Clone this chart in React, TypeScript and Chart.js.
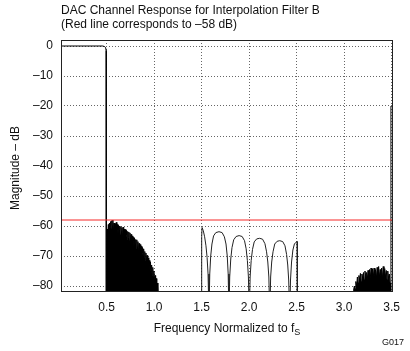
import { useEffect, useRef } from 'react';
import { Chart, registerables } from 'chart.js';

Chart.register(...registerables);

const titleLines = ['DAC Channel Response for Interpolation Filter B', '(Red line corresponds to \u201358 dB)'];
const yAxisTitle = 'Magnitude \u2013 dB';
const xAxisTitle = 'Frequency Normalized to f';
const xAxisTitleSub = 'S';
const figureId = 'G017';

const xTicks = [0.5, 1.0, 1.5, 2.0, 2.5, 3.0, 3.5];
const yTicks = [0, -10, -20, -30, -40, -50, -60, -70, -80];
const xMin = 0.02;
const xMax = 3.515;
const yMin = -82;
const yMax = 2;
const thresholdDb = -58;

const passbandFreq = [0.02, 0.46, 0.48, 0.49, 0.495, 0.497, 0.497];
const passbandMag = [0, 0, -0.2, -0.6, -1.5, -3, -90];

const stopband1Freq = [
  0.500, 0.506, 0.512, 0.518, 0.524, 0.530, 0.536, 0.542, 0.548, 0.554,
  0.560, 0.566, 0.572, 0.578, 0.584, 0.590, 0.596, 0.602, 0.608, 0.614,
  0.620, 0.626, 0.632, 0.638, 0.644, 0.650, 0.656, 0.662, 0.668, 0.674,
  0.680, 0.686, 0.692, 0.698, 0.704, 0.710, 0.716, 0.722, 0.728, 0.734,
  0.740, 0.746, 0.752, 0.758, 0.764, 0.770, 0.776, 0.782, 0.788, 0.794,
  0.800, 0.806, 0.812, 0.818, 0.824, 0.830, 0.836, 0.842, 0.848, 0.854,
  0.860, 0.866, 0.872, 0.878, 0.884, 0.890, 0.896, 0.902, 0.908, 0.914,
  0.920, 0.926, 0.932, 0.938, 0.944, 0.950, 0.956, 0.962, 0.968, 0.974,
  0.980, 0.986, 0.992, 0.998, 1.004, 1.010, 1.016, 1.022, 1.028, 1.034,
  1.040, 1.045,
];
const stopband1Mag = [
  -63.5, -61.0, -62.5, -59.5, -61.5, -59.0, -60.5, -58.5, -61.0, -58.2,
  -60.0, -58.0, -61.5, -59.0, -60.8, -59.2, -62.0, -58.8, -61.2, -59.5,
  -62.5, -59.8, -61.0, -60.0, -63.0, -60.2, -62.0, -60.5, -63.5, -60.4,
  -62.8, -61.0, -64.0, -61.2, -63.0, -61.5, -64.5, -61.8, -63.8, -62.0,
  -65.0, -62.3, -64.5, -62.8, -66.0, -63.3, -65.0, -63.8, -66.8, -64.0,
  -66.0, -64.5, -67.5, -64.6, -67.0, -65.2, -68.5, -65.8, -68.0, -66.2,
  -69.5, -66.8, -69.0, -67.2, -70.0, -67.6, -70.5, -68.5, -71.5, -69.0,
  -72.0, -69.8, -73.0, -70.6, -74.0, -71.5, -74.5, -72.0, -75.5, -73.0,
  -76.5, -73.8, -77.0, -75.0, -78.5, -76.5, -79.5, -77.5, -80.5, -79.0,
  -82.0, -90.0,
];

const lobeFreq = [
  1.500, 1.501, 1.505, 1.518, 1.532, 1.546, 1.558, 1.568, 1.578,
  1.586, 1.596, 1.609, 1.626, 1.650, 1.683, 1.716, 1.740, 1.757, 1.770, 1.780, 1.788,
  1.796, 1.807, 1.820, 1.838, 1.863, 1.895, 1.927, 1.952, 1.969, 1.982, 1.993, 2.002,
  2.011, 2.022, 2.036, 2.054, 2.080, 2.111, 2.142, 2.167, 2.184, 2.197, 2.208, 2.218,
  2.227, 2.238, 2.252, 2.270, 2.295, 2.323, 2.354, 2.378, 2.395, 2.407, 2.417, 2.428,
  2.436, 2.447, 2.461, 2.477, 2.495, 2.507, 2.508,
];
const lobeMag = [
  -90, -63.5, -60.5, -61.6, -63.6, -66.6, -70.5, -76, -90,
  -76, -70, -66, -63.3, -62.2, -61.9, -62.2, -63.6, -66, -70, -76, -90,
  -77, -71, -67.2, -64.6, -63.5, -63.2, -63.5, -64.9, -67.6, -71.5, -77, -90,
  -77, -71.5, -67.8, -65.3, -64.3, -64.1, -64.4, -65.9, -68.6, -72, -77, -90,
  -77, -72, -68.6, -66, -65.1, -64.9, -65.2, -66.6, -69.5, -73, -78, -90,
  -78, -72, -68, -66, -65.4, -65.2, -90,
];

const stopband2Freq = [
  3.090, 3.100, 3.108, 3.116, 3.124, 3.132, 3.140, 3.148, 3.156, 3.164,
  3.172, 3.180, 3.188, 3.196, 3.204, 3.212, 3.220, 3.228, 3.236, 3.244,
  3.252, 3.260, 3.268, 3.276, 3.284, 3.292, 3.300, 3.308, 3.316, 3.324,
  3.332, 3.340, 3.348, 3.356, 3.364, 3.372, 3.380, 3.388, 3.396, 3.404,
  3.412, 3.420, 3.428, 3.436, 3.444, 3.452, 3.460, 3.468, 3.476, 3.484,
  3.490,
];
const stopband2Mag = [
  -90, -81.5, -80.0, -81.0, -78.5, -80.0, -77.0, -79.0, -76.5, -78.0,
  -75.8, -78.5, -76.0, -77.5, -75.5, -78.0, -75.0, -77.0, -75.5, -78.0,
  -74.8, -76.5, -74.5, -77.5, -74.0, -76.0, -74.3, -77.0, -74.0, -76.5,
  -74.5, -77.5, -73.8, -76.0, -73.5, -77.0, -74.5, -76.5, -74.0, -77.5,
  -73.5, -76.0, -74.2, -77.0, -74.8, -78.0, -75.0, -77.5, -76.0, -79.0,
  -82.0,
];

const imageEdgeFreq = [3.493, 3.493];
const imageEdgeMag = [-90, -20];

const toPoints = (xs: number[], ys: number[]) => xs.map((x, i) => ({ x, y: ys[i] }));

const FONT = '"Liberation Sans", Arial, Helvetica, sans-serif';

const decorPlugin = {
  id: 'decor',
  afterDatasetsDraw(chart: any) {
    const { ctx, chartArea } = chart;
    ctx.save();
    ctx.strokeStyle = '#222';
    ctx.lineWidth = 1;
    const l = Math.round(chartArea.left) + 0.5;
    const t = Math.round(chartArea.top) + 0.5;
    const r = Math.round(chartArea.right) - 0.5;
    const b = Math.round(chartArea.bottom) - 0.5;
    ctx.strokeRect(l, t, r - l, b - t);
    ctx.restore();
  },
  afterDraw(chart: any) {
    const { ctx, chartArea } = chart;
    ctx.save();
    ctx.fillStyle = '#111';
    ctx.textBaseline = 'alphabetic';
    ctx.font = `12px ${FONT}`;
    ctx.textAlign = 'left';
    ctx.fillText(titleLines[0], 61, 14);
    ctx.fillText(titleLines[1], 61, 28);

    // y-axis title
    ctx.save();
    ctx.translate(16, (chartArea.top + chartArea.bottom) / 2 + 2);
    ctx.rotate(-Math.PI / 2);
    ctx.textAlign = 'center';
    ctx.textBaseline = 'middle';
    ctx.fillText(yAxisTitle, 0, 0);
    ctx.restore();

    // x-axis title with subscript
    ctx.font = `12px ${FONT}`;
    const mainW = ctx.measureText(xAxisTitle).width;
    ctx.font = `9px ${FONT}`;
    const subW = ctx.measureText(xAxisTitleSub).width;
    const cx = (chartArea.left + chartArea.right) / 2;
    const startX = cx - (mainW + subW) / 2;
    ctx.textAlign = 'left';
    ctx.font = `12px ${FONT}`;
    ctx.fillText(xAxisTitle, startX, 332);
    ctx.font = `9px ${FONT}`;
    ctx.fillText(xAxisTitleSub, startX + mainW, 335);

    ctx.font = `9px ${FONT}`;
    ctx.textAlign = 'right';
    ctx.fillText(figureId, 404, 345);
    ctx.restore();
  },
};

export default function App() {
  const canvasRef = useRef<HTMLCanvasElement | null>(null);

  useEffect(() => {
    if (!canvasRef.current) return;
    const lineBase = {
      pointRadius: 0,
      pointHoverRadius: 0,
      tension: 0,
      borderWidth: 1,
    };
    const chart = new Chart(canvasRef.current, {
      type: 'line',
      data: {
        datasets: [
          {
            ...lineBase,
            label: 'Threshold',
            data: [
              { x: xMin, y: thresholdDb },
              { x: xMax, y: thresholdDb },
            ],
            borderColor: 'rgb(245,40,40)',
            fill: false,
          },
          {
            ...lineBase,
            label: 'Passband',
            data: toPoints(passbandFreq, passbandMag),
            borderColor: '#000',
            fill: false,
          },
          {
            ...lineBase,
            label: 'Stopband 1',
            data: toPoints(stopband1Freq, stopband1Mag),
            borderColor: '#000',
            backgroundColor: '#000',
            fill: 'start',
          },
          {
            ...lineBase,
            label: 'Lobes',
            data: toPoints(lobeFreq, lobeMag),
            borderColor: '#222',
            fill: false,
          },
          {
            ...lineBase,
            label: 'Stopband 2',
            data: toPoints(stopband2Freq, stopband2Mag),
            borderColor: '#000',
            backgroundColor: '#000',
            fill: 'start',
          },
          {
            ...lineBase,
            label: 'Image edge',
            data: toPoints(imageEdgeFreq, imageEdgeMag),
            borderColor: '#111',
            fill: false,
          },
        ],
      },
      options: {
        responsive: false,
        animation: false,
        events: [],
        layout: { padding: { top: 40, right: 17, left: 0, bottom: 0 } },
        plugins: {
          legend: { display: false },
          tooltip: { enabled: false },
          title: { display: false },
        },
        scales: {
          x: {
            type: 'linear',
            min: xMin,
            max: xMax,
            afterBuildTicks: (scale: any) => {
              scale.ticks = xTicks.map((v) => ({ value: v }));
            },
            afterFit: (scale: any) => {
              scale.height = 59;
            },
            ticks: {
              padding: 8,
              color: '#111',
              font: { family: FONT, size: 12 },
              maxRotation: 0,
              autoSkip: false,
              callback: (v: any) => Number(v).toFixed(1),
            },
            grid: {
              color: '#666',
              lineWidth: 1,
              drawTicks: false,
            },
            border: { display: false, dash: [1, 2] },
          },
          y: {
            type: 'linear',
            min: yMin,
            max: yMax,
            afterBuildTicks: (scale: any) => {
              scale.ticks = yTicks.map((v) => ({ value: v }));
            },
            afterFit: (scale: any) => {
              scale.width = 61;
            },
            ticks: {
              padding: 8,
              color: '#111',
              font: { family: FONT, size: 12 },
              autoSkip: false,
              callback: (v: any) => (Number(v) === 0 ? '0' : '\u2013' + Math.abs(Number(v))),
            },
            grid: {
              color: '#666',
              lineWidth: 1,
              drawTicks: false,
            },
            border: { display: false, dash: [1, 2] },
          },
        },
      },
      plugins: [decorPlugin],
    } as any);
    return () => chart.destroy();
  }, []);

  return (
    <div style={{ position: 'fixed', left: 0, top: 0, width: 410, height: 351, background: '#fff' }}>
      <canvas ref={canvasRef} width={410} height={351} style={{ width: 410, height: 351, display: 'block' }} />
    </div>
  );
}
